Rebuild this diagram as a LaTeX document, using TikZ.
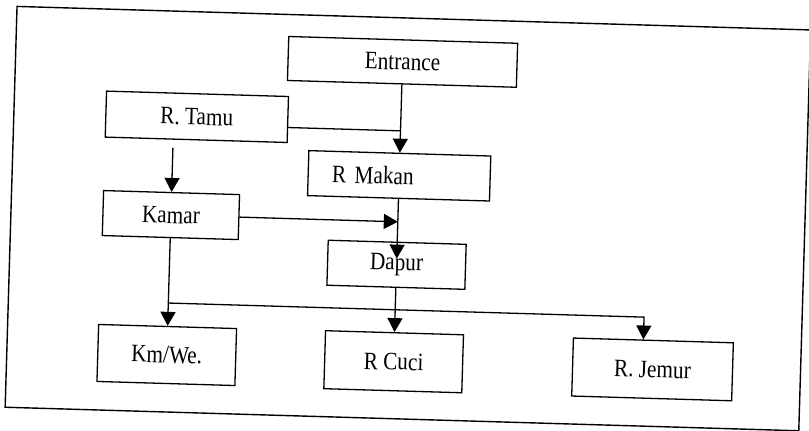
\documentclass[tikz,border=0pt]{standalone}
\usepackage{fontspec}
\setmainfont{Liberation Serif}[FakeStretch=0.85]
\usetikzlibrary{arrows.meta}
\newcommand{\scanTilt}{-1.7}

\begin{document}
\begin{tikzpicture}[x=1pt,y=1pt]
  \tikzset{room/.style={draw,line width=1.3pt,inner sep=0pt,font=\fontsize{25}{29}\selectfont},
    flow/.style={line width=1.3pt,-{Triangle[width=15pt,length=14pt]}},
    link/.style={line width=1.3pt}}
  \useasboundingbox (0,0) rectangle (809,431);
  \begin{scope}[rotate around={\scanTilt:(404.5,215.5)}, transform shape]
  \draw[line width=1.4pt] (11,12) rectangle (805,413);
  \node[room,minimum width=229pt,minimum height=44pt] (entrance) at (398,369) {Entrance};
  \node[room,minimum width=182pt,minimum height=46pt] (rtamu) at (194,308) {R. Tamu};
  \node[room,minimum width=182pt,minimum height=45pt,text width=134pt,align=left] (rmakan) at (398,255) {R Makan};
  \node[room,minimum width=136pt,minimum height=45pt] (kamar) at (171,209) {Kamar};
  \node[room,minimum width=138pt,minimum height=45pt] (dapur) at (398,166) {Dapur};
  \node[room,minimum width=138pt,minimum height=57pt] (kmwc) at (171,69) {Km/We.};
  \node[room,minimum width=138pt,minimum height=58pt] (rcuci) at (398,69) {R Cuci};
  \node[room,minimum width=160pt,minimum height=58pt] (rjemur) at (657,69) {R. Jemur};
  \coordinate (split) at (171,121);
  \draw[flow] (entrance) -- (rmakan);
  \draw[link] ([yshift=-8pt]rtamu.east) -- ([yshift=-8pt]rtamu.east -| entrance.south);
  \draw[flow] ([yshift=-8pt]rtamu.south -| kamar.north) -- (kamar);
  \draw[flow] (kamar.east) -- (kamar.east -| rmakan.south);
  \draw[flow] (rmakan) -- ([yshift=-17pt]dapur.north);
  \draw[flow] (kamar) -- (kmwc);
  \draw[flow] (split) -| ([xshift=-10pt]rjemur.north);
  \draw[flow] (dapur) -- (rcuci);
  \end{scope}
\end{tikzpicture}
\end{document}
